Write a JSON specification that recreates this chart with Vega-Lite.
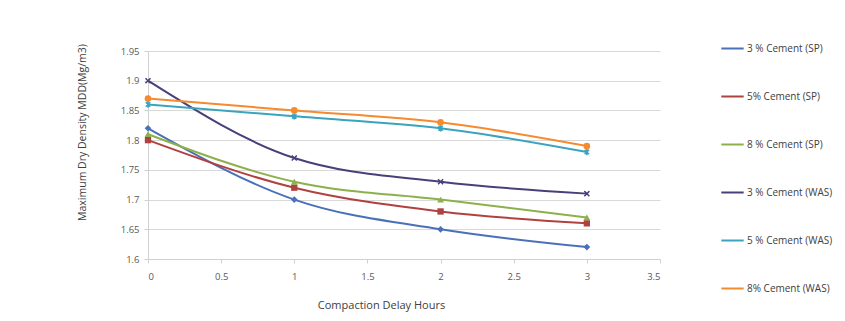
{
  "$schema": "https://vega.github.io/schema/vega-lite/v6.json",
  "autosize": {"type": "none"},
  "width": 512,
  "height": 208,
  "padding": {"left": 148, "top": 51, "right": 185, "bottom": 62},
  "background": "white",
  "config": {
    "font": "Open Sans",
    "view": {"stroke": null},
    "axis": {"labelFont": "Open Sans", "titleFont": "Open Sans", "labelColor": "#595959", "titleColor": "#404040", "titleFontWeight": "normal"}
  },
  "data": {
    "values": [
      {"series": "3 % Cement (SP)", "hours": 0, "mdd": 1.82},
      {"series": "3 % Cement (SP)", "hours": 1, "mdd": 1.70},
      {"series": "3 % Cement (SP)", "hours": 2, "mdd": 1.65},
      {"series": "3 % Cement (SP)", "hours": 3, "mdd": 1.62},
      {"series": "5% Cement (SP)", "hours": 0, "mdd": 1.80},
      {"series": "5% Cement (SP)", "hours": 1, "mdd": 1.72},
      {"series": "5% Cement (SP)", "hours": 2, "mdd": 1.68},
      {"series": "5% Cement (SP)", "hours": 3, "mdd": 1.66},
      {"series": "8 % Cement (SP)", "hours": 0, "mdd": 1.81},
      {"series": "8 % Cement (SP)", "hours": 1, "mdd": 1.73},
      {"series": "8 % Cement (SP)", "hours": 2, "mdd": 1.70},
      {"series": "8 % Cement (SP)", "hours": 3, "mdd": 1.67},
      {"series": "3 % Cement (WAS)", "hours": 0, "mdd": 1.90},
      {"series": "3 % Cement (WAS)", "hours": 1, "mdd": 1.77},
      {"series": "3 % Cement (WAS)", "hours": 2, "mdd": 1.73},
      {"series": "3 % Cement (WAS)", "hours": 3, "mdd": 1.71},
      {"series": "5 % Cement (WAS)", "hours": 0, "mdd": 1.86},
      {"series": "5 % Cement (WAS)", "hours": 1, "mdd": 1.84},
      {"series": "5 % Cement (WAS)", "hours": 2, "mdd": 1.82},
      {"series": "5 % Cement (WAS)", "hours": 3, "mdd": 1.78},
      {"series": "8% Cement (WAS)", "hours": 0, "mdd": 1.87},
      {"series": "8% Cement (WAS)", "hours": 1, "mdd": 1.85},
      {"series": "8% Cement (WAS)", "hours": 2, "mdd": 1.83},
      {"series": "8% Cement (WAS)", "hours": 3, "mdd": 1.79}
    ]
  },
  "encoding": {
    "x": {
      "field": "hours", "type": "quantitative",
      "scale": {"domain": [0, 3.5], "nice": false, "zero": false},
      "axis": {
        "title": "Compaction Delay Hours",
        "values": [0, 0.5, 1, 1.5, 2, 2.5, 3, 3.5],
        "format": "~g",
        "grid": false,
        "domainColor": "#d0d0d0",
        "tickColor": "#d0d0d0",
        "tickSize": 4,
        "labelFontSize": 9.5,
        "labelPadding": 8,
        "titleFontSize": 11,
        "titleX": 233,
        "titleY": 46,
        "titleBaseline": "middle",
        "titleAnchor": null
      }
    },
    "y": {
      "field": "mdd", "type": "quantitative",
      "scale": {"domain": [1.6, 1.95], "nice": false, "zero": false},
      "axis": {
        "title": "Maximum Dry Density MDD(Mg/m3)",
        "values": [1.6, 1.65, 1.7, 1.75, 1.8, 1.85, 1.9, 1.95],
        "format": ".2~f",
        "grid": true,
        "gridColor": "#d9d9d9",
        "domainColor": "#d0d0d0",
        "tickColor": "#d0d0d0",
        "tickSize": 4,
        "labelFontSize": 9.5,
        "labelPadding": 5,
        "titleFontSize": 10.5,
        "titleX": -66,
        "titleY": 81,
        "titleAngle": -90,
        "titleBaseline": "middle",
        "titleAlign": "center"
      }
    }
  },
  "layer": [
    {
      "mark": {"type": "line", "interpolate": "monotone", "strokeWidth": 2},
      "encoding": {
        "color": {
          "field": "series", "type": "nominal",
          "sort": ["3 % Cement (SP)", "5% Cement (SP)", "8 % Cement (SP)", "3 % Cement (WAS)", "5 % Cement (WAS)", "8% Cement (WAS)"],
          "scale": {
            "domain": ["3 % Cement (SP)", "5% Cement (SP)", "8 % Cement (SP)", "3 % Cement (WAS)", "5 % Cement (WAS)", "8% Cement (WAS)"],
            "range": ["#4A70B8", "#B0413E", "#8DB04A", "#4B3F7A", "#3AA4BF", "#F58A2E"]
          },
          "legend": {
            "title": null,
            "orient": "none",
            "legendX": 572,
            "legendY": -15,
            "symbolType": "stroke",
            "symbolSize": 500,
            "symbolStrokeWidth": 2,
            "labelFont": "Open Sans",
            "labelFontSize": 10,
            "labelColor": "#404040",
            "labelOffset": 2,
            "rowPadding": 30,
            "labelLimit": 200
          }
        }
      }
    },
    {
      "transform": [{"filter": "datum.series === '3 % Cement (SP)'"}],
      "mark": {"type": "point", "shape": "diamond", "filled": true, "size": 45, "color": "#4A70B8", "opacity": 1}
    },
    {
      "transform": [{"filter": "datum.series === '5% Cement (SP)'"}],
      "mark": {"type": "point", "shape": "square", "filled": true, "size": 40, "color": "#B0413E", "opacity": 1}
    },
    {
      "transform": [{"filter": "datum.series === '8 % Cement (SP)'"}],
      "mark": {"type": "point", "shape": "triangle-up", "filled": true, "size": 45, "color": "#8DB04A", "opacity": 1}
    },
    {
      "transform": [{"filter": "datum.series === '3 % Cement (WAS)'"}],
      "mark": {"type": "point", "shape": "M-0.8,-0.8L0.8,0.8M-0.8,0.8L0.8,-0.8", "filled": false, "size": 40, "color": "#4B3F7A", "strokeWidth": 1.5, "opacity": 1}
    },
    {
      "transform": [{"filter": "datum.series === '5 % Cement (WAS)'"}],
      "mark": {"type": "point", "shape": "M-0.7,-0.7L0.7,0.7M-0.7,0.7L0.7,-0.7M0,-1L0,1", "filled": false, "size": 40, "color": "#3AA4BF", "strokeWidth": 1.5, "opacity": 1}
    },
    {
      "transform": [{"filter": "datum.series === '8% Cement (WAS)'"}],
      "mark": {"type": "point", "shape": "circle", "filled": true, "size": 45, "color": "#F58A2E", "opacity": 1}
    }
  ]
}
